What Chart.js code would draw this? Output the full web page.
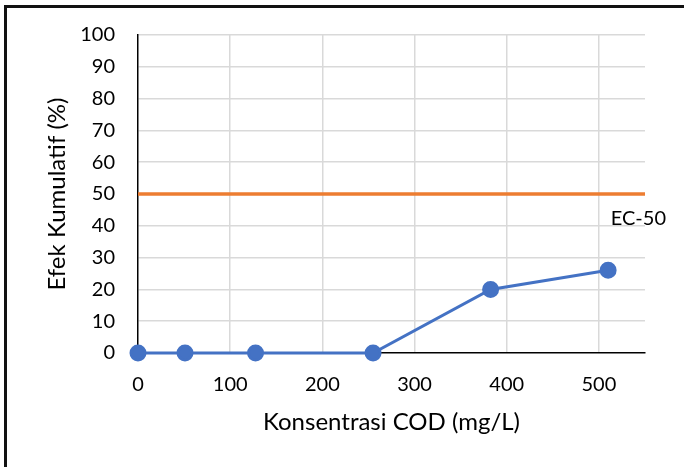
<!DOCTYPE html>
<html>
<head>
<meta charset="utf-8">
<script src="https://cdn.jsdelivr.net/npm/chart.js@4.4.1/dist/chart.umd.min.js"></script>
<style>
  body { margin: 0; background: #fff; }
  #wrap { position: relative; width: 684px; height: 467px; }
  #frame { position: absolute; left: 4px; top: 5px; right: -10px; bottom: -10px;
           border-left: 3px solid #111; border-top: 3px solid #111; pointer-events: none; }
</style>
</head>
<body>
<div id="wrap">
  <canvas id="chart" width="684" height="467"></canvas>
  <div id="frame"></div>
</div>
<script>
// Konsentrasi COD (mg/L) and the cumulative effect measured at each one
const kadarCOD = [0, 51, 127.5, 255, 382.5, 510];
const efekKumulatif = [0, 0, 0, 0, 20, 26];

// EC-50 reference line
const ec50X = [0, 550];
const ec50Y = [50, 50];

const yTicks = [0, 10, 20, 30, 40, 50, 60, 70, 80, 90, 100];
const xTicks = [0, 100, 200, 300, 400, 500];

const fontFamily = 'Lato, "Open Sans", sans-serif';

// Writes "EC-50" just under the right end of the reference line
const ec50Label = {
    id: 'ec50Label',
    afterDatasetsDraw(chart) {
        const ctx = chart.ctx;
        const xs = chart.scales.x;
        const ys = chart.scales.y;
        ctx.save();
        ctx.font = '20px ' + fontFamily;
        ctx.fillStyle = '#000';
        ctx.textAlign = 'right';
        ctx.textBaseline = 'middle';
        ctx.fillText('EC-50', xs.getPixelForValue(ec50X[1]) + 21, ys.getPixelForValue(ec50Y[1]) + 25);
        ctx.restore();
    }
};

new Chart(document.getElementById('chart'), {
    type: 'scatter',
    data: {
        datasets: [
            {
                label: 'Efek',
                data: kadarCOD.map((x, i) => ({ x: x, y: efekKumulatif[i] })),
                showLine: true,
                borderColor: '#4472C4',
                backgroundColor: '#4472C4',
                borderWidth: 3,
                pointRadius: 7,
                pointHoverRadius: 7,
                clip: false
            },
            {
                label: 'EC-50',
                data: ec50X.map((x, i) => ({ x: x, y: ec50Y[i] })),
                showLine: true,
                borderColor: '#ED7D31',
                borderWidth: 3.5,
                pointRadius: 0,
                clip: false
            }
        ]
    },
    options: {
        responsive: false,
        animation: false,
        layout: { padding: { left: 40, top: 35, right: 39, bottom: 30 } },
        plugins: {
            legend: { display: false },
            tooltip: { enabled: false }
        },
        scales: {
            x: {
                type: 'linear',
                min: 0,
                max: 550,
                afterFit: s => { s.height = 84; },
                afterBuildTicks: s => { s.ticks = xTicks.map(v => ({ value: v })); },
                ticks: { color: '#000', padding: 20, font: { family: fontFamily, size: 20 } },
                grid: {
                    color: ctx => ctx.tick && ctx.tick.value === 0 ? 'rgba(0,0,0,0)' : '#d9d9d9',
                    lineWidth: 1.5,
                    drawTicks: false
                },
                border: { color: '#000', width: 1.5 },
                title: {
                    display: true,
                    text: 'Konsentrasi COD (mg/L)',
                    color: '#000',
                    font: { family: fontFamily, size: 24 },
                    padding: { top: 0, bottom: 0 }
                }
            },
            y: {
                min: 0,
                max: 100,
                afterFit: s => { s.width = 98; },
                afterBuildTicks: s => { s.ticks = yTicks.map(v => ({ value: v })); },
                ticks: { color: '#000', padding: 23, font: { family: fontFamily, size: 20 } },
                grid: {
                    color: ctx => ctx.tick && ctx.tick.value === 0 ? 'rgba(0,0,0,0)' : '#d9d9d9',
                    lineWidth: 1.5,
                    drawTicks: false
                },
                border: { color: '#000', width: 1.5 },
                title: {
                    display: true,
                    text: 'Efek Kumulatif (%)',
                    color: '#000',
                    font: { family: fontFamily, size: 24 },
                    padding: { top: 3, bottom: 0 }
                }
            }
        }
    },
    plugins: [ec50Label]
});
</script>
</body>
</html>
